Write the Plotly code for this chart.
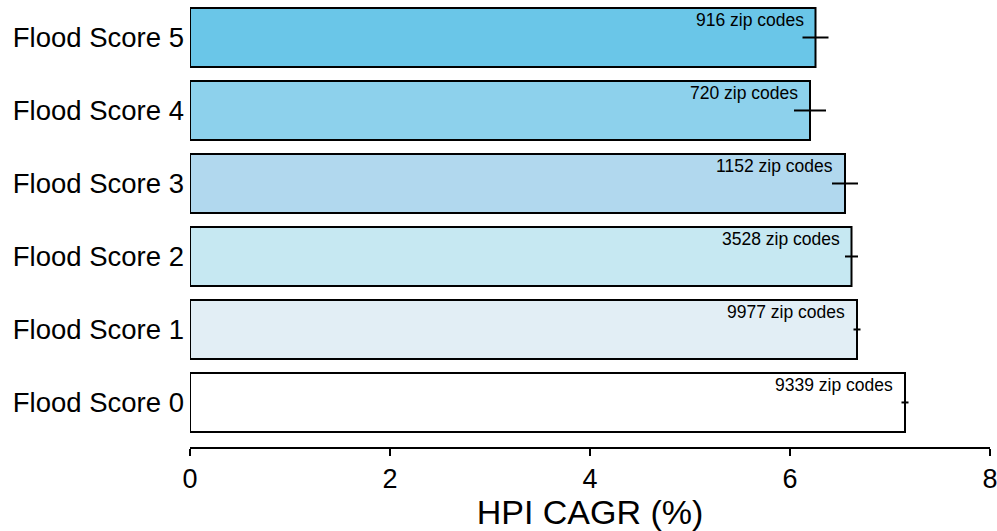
import plotly.graph_objects as go

# HPI compound annual growth by flood score
categories = ["Flood Score 0", "Flood Score 1", "Flood Score 2",
              "Flood Score 3", "Flood Score 4", "Flood Score 5"]
cagr = [7.15, 6.67, 6.615, 6.55, 6.20, 6.255]
cagr_err = [0.035, 0.035, 0.065, 0.13, 0.16, 0.13]
zip_counts = [9339, 9977, 3528, 1152, 720, 916]
bar_colors = ["#ffffff", "#e2eef5", "#c6e8f2", "#b1d8ee", "#8dd1ec", "#6ac6e8"]
x_ticks = [0, 2, 4, 6, 8]

FONT = "Arial, Liberation Sans, sans-serif"

fig = go.Figure(
    go.Bar(
        y=categories,
        x=cagr,
        orientation="h",
        marker=dict(color=bar_colors, line=dict(color="black", width=2)),
        error_x=dict(type="data", array=cagr_err, visible=True,
                     color="black", thickness=2, width=0),
        hoverinfo="skip",
    )
)

for cat, val, n in zip(categories, cagr, zip_counts):
    fig.add_annotation(
        x=val, y=cat, text=f"{n} zip codes", showarrow=False,
        xanchor="right", yanchor="middle", xshift=-10, yshift=17.5,
        font=dict(family=FONT, size=17.5, color="black"),
    )

fig.update_layout(
    width=997, height=531,
    margin=dict(l=190, r=7, t=1, b=84),
    paper_bgcolor="white", plot_bgcolor="white",
    bargap=0.19,
    showlegend=False,
    font=dict(family=FONT, color="black"),
)

fig.update_xaxes(
    range=[0, 8], tickvals=x_ticks, ticktext=[str(t) for t in x_ticks],
    showgrid=False, zeroline=False, automargin=False,
    showline=True, linecolor="black", linewidth=2,
    ticks="outside", ticklen=7, tickwidth=2, tickcolor="black",
    ticklabeloverflow="allow",
    tickfont=dict(family=FONT, size=27, color="black"),
    title=dict(text="HPI CAGR (%)", standoff=3,
               font=dict(family=FONT, size=34, color="black")),
)

fig.update_yaxes(
    categoryorder="array", categoryarray=categories,
    range=[-0.61, 5.5], automargin=False,
    showgrid=False, zeroline=False, showline=False, ticks="",
    ticklabelstandoff=5,
    tickfont=dict(family=FONT, size=27.5, color="black"),
)

fig.write_html("out.html")
